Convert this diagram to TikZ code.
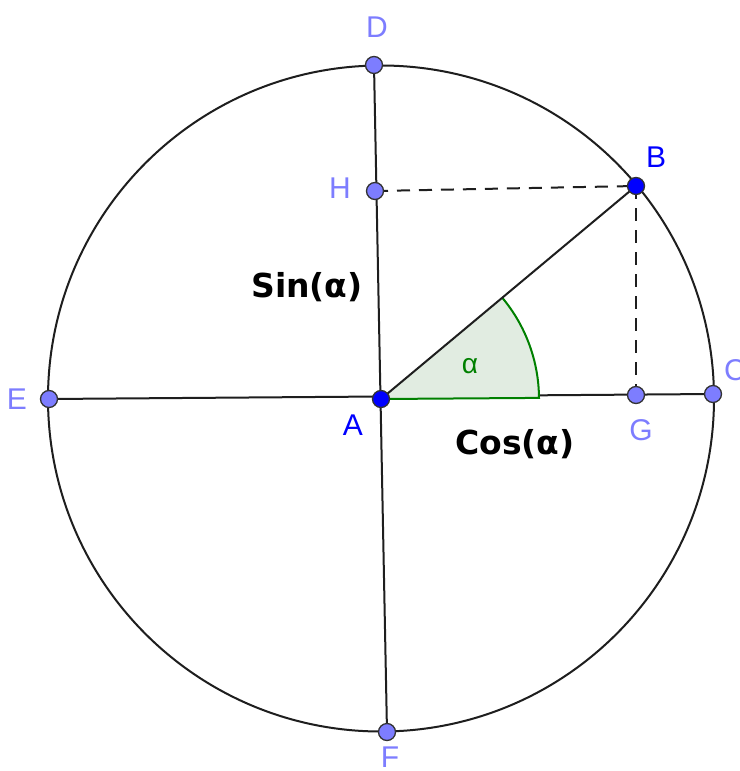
\documentclass[tikz,border=0pt]{standalone}
\usepackage{fontspec}
\setmainfont{Liberation Sans}
\newfontfamily\labfont{DejaVu Sans}
\definecolor{ptlight}{RGB}{125,125,255}
\definecolor{ptblue}{RGB}{0,0,255}
\definecolor{lablight}{RGB}{125,125,255}
\definecolor{angfill}{RGB}{225,236,225}
\definecolor{anggreen}{RGB}{0,128,0}
\definecolor{linec}{RGB}{30,30,30}
\begin{document}
\begin{tikzpicture}[x=1pt,y=-1pt,
  ln/.style={draw=linec,line width=2pt},
  dsh/.style={draw=linec,line width=2pt,dash pattern=on 13pt off 9pt},
  lpt/.style={circle,fill=ptlight,draw=black!80,line width=1.3pt,inner sep=0pt,minimum size=17pt},
  bpt/.style={circle,fill=ptblue,draw=black!80,line width=1.3pt,inner sep=0pt,minimum size=17pt},
  llab/.style={text=lablight,font=\fontsize{30}{32}\selectfont,inner sep=0pt},
  blab/.style={text=ptblue,font=\fontsize{30}{32}\selectfont,inner sep=0pt},
  tlab/.style={text=black,font=\labfont\bfseries\fontsize{33}{36}\selectfont,inner sep=0pt}]
\useasboundingbox (0,0) rectangle (739,771);
\fill[white] (0,0) rectangle (739,771);
% coordinates
\coordinate (cA) at (381,399);
\coordinate (cB) at (636,186);
\coordinate (cC) at (713,394);
\coordinate (cD) at (374,65);
\coordinate (cE) at (49,399);
\coordinate (cF) at (387,732);
\coordinate (cG) at (636,395);
\coordinate (cH) at (375,191);
% circle
\draw[ln] (381,398.5) circle (333);
% lines
\draw[ln] (cD) -- (cF);
\draw[ln] (cE) -- (cC);
% angle sector
\fill[angfill] (cA) -- ++(-0.4:158) arc[start angle=-0.4,end angle=-39.8,radius=158] -- cycle;
\draw[anggreen,line width=2pt] (cA) -- ++(-0.4:158) arc[start angle=-0.4,end angle=-39.8,radius=158];
\draw[ln] (cA) -- (cB);
% dashed
\draw[dsh] (cH) -- (cB);
\draw[dsh] (cB) -- (cG);
% points
\node[lpt] (D) at (cD) {};
\node[lpt] (H) at (cH) {};
\node[lpt] (E) at (cE) {};
\node[lpt] (C) at (cC) {};
\node[lpt] (G) at (cG) {};
\node[lpt] (F) at (cF) {};
\node[bpt] (A) at (cA) {};
\node[bpt] (B) at (cB) {};
% labels
\node[llab] (lD) at (377,27) {D};
\node[llab] (lH) at (340,188) {H};
\node[blab] (lB) at (656,157) {B};
\node[llab] (lE) at (17,399) {E};
\node[llab,anchor=west] (lC) at (724,370) {C};
\node[blab] (lA) at (353,425) {A};
\node[llab] (lG) at (641,430) {G};
\node[llab] (lF) at (390,757) {F};
\node[text=anggreen,font=\fontsize{28}{30}\selectfont,inner sep=0pt] (alpha) at (470,366) {α};
\node[tlab] (sin) at (307,287) {Sin(α)};
\node[tlab] (cos) at (515,444) {Cos(α)};
\end{tikzpicture}
\end{document}
